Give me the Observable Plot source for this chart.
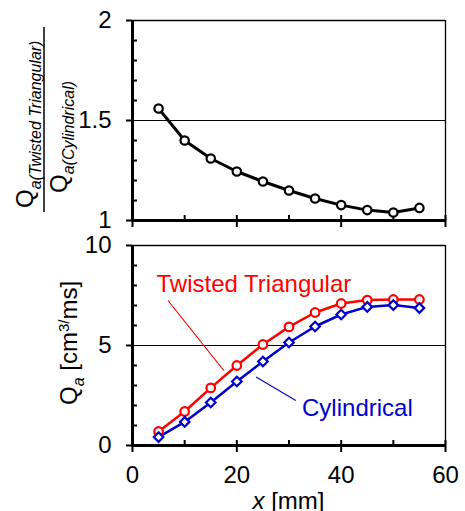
<!DOCTYPE html>
<html>
<head>
<meta charset="utf-8">
<script src="https://cdn.jsdelivr.net/npm/d3@7"></script>
<script src="https://cdn.jsdelivr.net/npm/@observablehq/plot@0.6"></script>
<style>
  html, body { margin: 0; padding: 0; background: white; }
  #chart { position: relative; width: 465px; height: 511px; overflow: hidden; }
  #chart svg { position: absolute; left: 0; overflow: visible; }
</style>
</head>
<body>
<div id="chart"></div>
<script>
// ---- data ----
const xs = [5, 10, 15, 20, 25, 30, 35, 40, 45, 50, 55];
const ratio = [1.56, 1.40, 1.31, 1.245, 1.195, 1.15, 1.11, 1.077, 1.052, 1.04, 1.063];
const twisted = [0.70, 1.70, 2.88, 4.00, 5.05, 5.93, 6.65, 7.10, 7.27, 7.30, 7.30];
const cylindrical = [0.42, 1.18, 2.15, 3.20, 4.20, 5.15, 5.95, 6.55, 6.93, 7.02, 6.87];

// tick values
const xMajor = [0, 20, 40, 60];
const xMinor = [10, 30, 50];
const topYMajor = [1, 1.5, 2];
const topYMinor = [1.1, 1.2, 1.3, 1.4, 1.6, 1.7, 1.8, 1.9];
const botYMajor = [0, 5, 10];
const botYMinor = [1, 2, 3, 4, 6, 7, 8, 9];

// series labels and their leader lines (data coordinates)
const seriesLabels = [
  {name: "Twisted Triangular", color: "#ff0000", tx: 4.6, ty: 8.08, x1: 6.8, y1: 7.25, x2: 17.5, y2: 3.75},
  {name: "Cylindrical", color: "#0000cc", tx: 32.5, ty: 1.88, x1: 23.7, y1: 3.42, x2: 31.3, y2: 2.25}
];

const topRows = xs.map((x, i) => ({x, r: ratio[i]}));
const tRows = xs.map((x, i) => ({x, q: twisted[i]}));
const cRows = xs.map((x, i) => ({x, q: cylindrical[i]}));

const FONT = '"Liberation Sans", Arial, sans-serif';
const plotStyle = {fontFamily: FONT, fontSize: "24px", background: "transparent", color: "black", overflow: "visible"};
const ML = 132, MR = 20, W = 465;
const innerW = W - ML - MR;
const innerH = 200;

// ---- top panel ----
const topSvg = Plot.plot({
  width: W, height: 232, marginLeft: ML, marginRight: MR, marginTop: 20, marginBottom: 12,
  x: {domain: [0, 60], axis: null},
  y: {domain: [1, 2], axis: null},
  style: plotStyle,
  marks: [
    Plot.ruleY([1.5], {stroke: "black", strokeWidth: 1}),
    Plot.ruleY([2], {stroke: "black", strokeWidth: 1.3}),
    Plot.ruleX([60], {stroke: "black", strokeWidth: 1.3}),
    Plot.tickY(topYMinor, {y: d => d, insetRight: innerW - 5, strokeWidth: 2}),
    Plot.axisY({ticks: topYMajor, tickSize: 6, tickPadding: 15, strokeWidth: 2, fontSize: 24, label: null, tickFormat: d => String(d)}),
    Plot.tickX(xMinor, {x: d => d, insetTop: innerH - 5, strokeWidth: 2}),
    Plot.tickX(xMajor, {x: d => d, insetTop: innerH - 5, insetBottom: -7, strokeWidth: 2}),
    Plot.ruleX([0], {stroke: "black", strokeWidth: 3, insetBottom: -1.5}),
    Plot.ruleY([1], {stroke: "black", strokeWidth: 3}),
    Plot.line(topRows, {x: "x", y: "r", stroke: "black", strokeWidth: 3}),
    Plot.dot(topRows, {x: "x", y: "r", r: 4.2, fill: "white", stroke: "black", strokeWidth: 2.2})
  ]
});
topSvg.style.top = "0px";

// ---- bottom panel ----
const botSvg = Plot.plot({
  width: W, height: 286, marginLeft: ML, marginRight: MR, marginTop: 20, marginBottom: 66,
  x: {domain: [0, 60], axis: null},
  y: {domain: [0, 10], axis: null},
  style: plotStyle,
  marks: [
    Plot.ruleY([5], {stroke: "black", strokeWidth: 1}),
    Plot.ruleY([10], {stroke: "black", strokeWidth: 1.3}),
    Plot.ruleX([60], {stroke: "black", strokeWidth: 1.3}),
    Plot.tickY(botYMinor, {y: d => d, insetRight: innerW - 5, strokeWidth: 2}),
    Plot.axisY({ticks: botYMajor, tickSize: 6, tickPadding: 15, strokeWidth: 2, fontSize: 24, label: null}),
    Plot.tickX(xMinor, {x: d => d, insetTop: innerH - 5, strokeWidth: 2}),
    Plot.tickX(xMajor, {x: d => d, insetTop: innerH - 5, strokeWidth: 2}),
    Plot.axisX({ticks: xMajor, tickSize: 7, tickPadding: 13, strokeWidth: 2, fontSize: 24, label: null}),
    Plot.ruleX([0], {stroke: "black", strokeWidth: 3, insetBottom: -1.5}),
    Plot.ruleY([0], {stroke: "black", strokeWidth: 3}),
    Plot.link(seriesLabels, {x1: "x1", y1: "y1", x2: "x2", y2: "y2", stroke: "color", strokeWidth: 1.2}),
    Plot.text(seriesLabels, {x: "tx", y: "ty", text: "name", fill: "color", textAnchor: "start", fontSize: 24}),
    Plot.line(tRows, {x: "x", y: "q", stroke: "#ff0000", strokeWidth: 2.5}),
    Plot.line(cRows, {x: "x", y: "q", stroke: "#0000cc", strokeWidth: 2.5}),
    Plot.dot(tRows, {x: "x", y: "q", r: 4.3, fill: "white", stroke: "#ff0000", strokeWidth: 2.2}),
    Plot.dot(cRows, {x: "x", y: "q", r: 4.3, symbol: "diamond2", fill: "white", stroke: "#0000cc", strokeWidth: 2.2})
  ]
});
botSvg.style.top = "225px";

const chart = document.getElementById("chart");
chart.appendChild(botSvg);
chart.appendChild(topSvg);

// ---- axis titles ----
function addText(svg, x, y, rotate, parts, anchor = "start") {
  const t = d3.select(svg).append("text")
    .attr("transform", `translate(${x},${y})${rotate ? ` rotate(${rotate})` : ""}`)
    .attr("text-anchor", anchor)
    .attr("font-family", FONT)
    .attr("fill", "black");
  for (const p of parts) {
    const s = t.append("tspan").text(p.text).attr("font-size", p.size || 24);
    if (p.dy) s.attr("dy", p.dy);
    if (p.italic) s.attr("font-style", "italic");
  }
  return t;
}

// top: fraction label
addText(topSvg, 33, 208, -90, [
  {text: "Q", size: 24},
  {text: "a(Twisted Triangular)", size: 16, italic: true, dy: 8}
]);
d3.select(topSvg).append("line")
  .attr("x1", 44).attr("x2", 44).attr("y1", 27).attr("y2", 212)
  .attr("stroke", "black").attr("stroke-width", 1.5);
addText(topSvg, 67, 193, -90, [
  {text: "Q", size: 24},
  {text: "a(Cylindrical)", size: 16, italic: true, dy: 7}
]);

// bottom: Q_a [cm3/ms]
addText(botSvg, 77, 405 - 225, -90, [
  {text: "Q", size: 24},
  {text: "a", size: 16, italic: true, dy: 7},
  {text: " [cm", size: 24, dy: -7},
  {text: "3/", size: 15, dy: -8},
  {text: "ms]", size: 24, dy: 8}
]);

// x label
addText(botSvg, ML + innerW / 2, 509 - 225, 0, [
  {text: "x", size: 24, italic: true},
  {text: " [mm]", size: 24}
], "middle");
</script>
</body>
</html>
